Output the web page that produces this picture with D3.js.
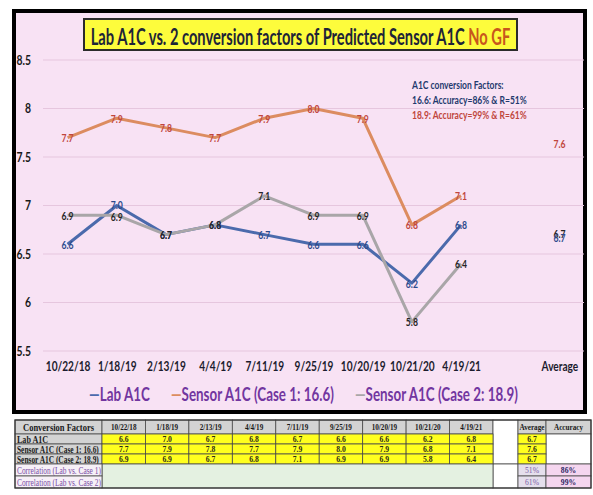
<!DOCTYPE html>
<html><head><meta charset="utf-8">
<script src="https://cdn.jsdelivr.net/npm/d3@7/dist/d3.min.js"></script>
<style>body{margin:0;background:#fff}svg{display:block}</style>
</head><body>
<svg id="c" width="593" height="495"></svg>
<script>
// ---------- data ----------
const categories = ["10/22/18","1/18/19","2/13/19","4/4/19","7/11/19","9/25/19","10/20/19","10/21/20","4/19/21","","Average"];
const labA1C      = [6.6, 7.0, 6.7, 6.8, 6.7, 6.6, 6.6, 6.2, 6.8, null, 6.67];
const sensorCase1 = [7.7, 7.9, 7.8, 7.7, 7.9, 8.0, 7.9, 6.8, 7.1, null, 7.64];
const sensorCase2 = [6.9, 6.9, 6.7, 6.8, 7.1, 6.9, 6.9, 5.8, 6.4, null, 6.71];
const seriesNames = ["Lab A1C", "Sensor A1C (Case 1: 16.6)", "Sensor A1C (Case 2: 18.9)"];
const yTicks = [5.5, 6, 6.5, 7, 7.5, 8, 8.5];
const titleMain = "Lab A1C vs. 2 conversion factors of Predicted Sensor A1C ";
const titleTag = "No GF";
const annotationLines = ["A1C conversion Factors:", "16.6:  Accuracy=86% & R=51%", "18.9:  Accuracy=99% & R=61%"];
const tableHeader = "Conversion Factors";
const correlationLabels = ["Correlation (Lab vs. Case 1)", "Correlation (Lab vs. Case 2)"];
const correlationValues = ["51%", "61%"];
const accuracyHeader = "Accuracy";
const accuracyValues = ["86%", "99%"];

// ---------- setup ----------
const svg = d3.select("#c");
const F = "Lato, 'Open Sans', sans-serif";
const SERIF = "'Liberation Serif', 'DejaVu Serif', serif";
const fmt = d3.format(".1f");

function scaledText(g, str, x, y, opts) {
  const t = g.append("text")
    .attr("font-family", opts.family || F)
    .attr("font-size", opts.size)
    .attr("font-weight", opts.weight || "bold")
    .attr("fill", opts.fill || "#1a1a1a")
    .attr("text-anchor", opts.anchor || "middle")
    .attr("dominant-baseline", "central")
    .text(str);
  let s = opts.sx || 0.8;
  if (opts.width) s = opts.width / t.node().getBBox().width;
  t.attr("transform", `translate(${x},${y}) scale(${s},1)`);
  return t;
}

// frame
svg.append("rect").attr("x", 14).attr("y", 11).attr("width", 571).attr("height", 401)
  .attr("fill", "#f8e2f4").attr("stroke", "#000").attr("stroke-width", 4);

const x = d3.scalePoint().domain(categories).range([43, 584]).padding(0.5);
const y = d3.scaleLinear().domain([5.5, 8.5]).range([351, 60]);

// grid
svg.append("g").selectAll("line").data(yTicks).join("line")
  .attr("x1", 43).attr("x2", 584).attr("y1", d => y(d)).attr("y2", d => y(d))
  .attr("stroke", "#e6c6de").attr("stroke-width", 1);

// y axis
const ya = svg.append("g").attr("transform", "translate(43,0)")
  .call(d3.axisLeft(y).tickValues(yTicks).tickSize(0).tickPadding(12)
    .tickFormat(d => d % 1 ? d.toFixed(1) : String(d)));
ya.select(".domain").remove();
ya.selectAll("text").attr("font-family", F).attr("font-weight", "bold").attr("font-size", 13)
  .attr("fill", "#1a1a1a").attr("x", -12 / 0.8).attr("transform", "scale(0.8,1)");

// x axis
const xa = svg.append("g").attr("transform", "translate(0,351)")
  .call(d3.axisBottom(x).tickSize(0).tickPadding(11));
xa.select(".domain").remove();
xa.selectAll("text").attr("font-family", F).attr("font-weight", "bold").attr("font-size", 13)
  .attr("fill", "#1c1c2e").attr("transform", "scale(0.78,1)");

// series
const series = [
  { name: seriesNames[0], values: labA1C, stroke: "#4b6aac", label: "#2c4a8c" },
  { name: seriesNames[1], values: sensorCase1, stroke: "#dc8c60", label: "#c0463c" },
  { name: seriesNames[2], values: sensorCase2, stroke: "#a9a6a8", label: "#262626" }
];
const line = d3.line().defined(d => d.v != null).x(d => x(d.c)).y(d => y(d.v));
series.forEach(s => {
  const pts = categories.map((c, i) => ({ c, v: s.values[i] }));
  svg.append("path").datum(pts).attr("d", line).attr("fill", "none")
    .attr("stroke", s.stroke).attr("stroke-width", 3).attr("stroke-linejoin", "round");
});
// data labels (centered on points; labels with different text that collide are nudged apart)
const lblG = svg.append("g");
categories.forEach((c, i) => {
  const labs = series.filter(s => s.values[i] != null)
    .map(s => ({ s, txt: fmt(s.values[i]), ly: y(s.values[i]) }))
    .sort((a, b) => a.ly - b.ly);
  for (let k = 1; k < labs.length; k++) {
    const a = labs[k - 1], b = labs[k];
    if (a.txt !== b.txt && b.ly - a.ly < 12) {
      const d = (12 - (b.ly - a.ly)) / 2;
      a.ly -= d; b.ly += d;
    }
  }
  labs.forEach(l => scaledText(lblG, l.txt, x(c), l.ly, { size: 11.5, fill: l.s.label, sx: 0.75 }));
});

// title
svg.append("rect").attr("x", 84).attr("y", 19).attr("width", 433).attr("height", 31)
  .attr("fill", "#fdfc3c").attr("stroke", "#2b2b2b").attr("stroke-width", 2);
const tt = svg.append("text").attr("font-family", F).attr("font-size", 23).attr("font-weight", "bold")
  .attr("text-anchor", "middle").attr("dominant-baseline", "central").attr("fill", "#1d2438");
tt.append("tspan").text(titleMain);
tt.append("tspan").attr("fill", "#c8561c").text(titleTag);
tt.attr("transform", `translate(300.5,35) scale(${420 / tt.node().getBBox().width},1)`);

// annotation
const annG = svg.append("g");
const annColors = ["#1f3a6e", "#1f3a6e", "#c0463c"];
const a2 = annG.append("text").attr("font-family", F).attr("font-size", 12).attr("font-weight", "bold")
  .text(annotationLines[1]);
const annScale = 115 / a2.node().getBBox().width;
a2.remove();
annotationLines.forEach((t, i) => {
  scaledText(annG, t, 412, 84 + i * 15, { size: 12, fill: annColors[i], anchor: "start", sx: annScale });
});

// legend
const legG = svg.append("g");
const items = series.map(s => {
  const t = legG.append("text").attr("font-family", F).attr("font-size", 18).attr("font-weight", "bold")
    .attr("dominant-baseline", "central");
  t.append("tspan").attr("fill", s.stroke).text("\u2014");
  t.append("tspan").attr("fill", "#7236a0").text(s.name);
  return t;
});
const legScale = 163 / items[1].node().getBBox().width;
const widths = items.map(t => t.node().getBBox().width * legScale);
const gap = 21;
const total = d3.sum(widths) + gap * (items.length - 1);
let lx = 303.5 - total / 2;
items.forEach((t, i) => {
  t.attr("transform", `translate(${lx},393) scale(${legScale},1)`);
  lx += widths[i] + gap;
});

// ---------- table ----------
const tg = svg.append("g");
const dateCats = categories.slice(0, 9);
const colX = [15, 102];
dateCats.forEach((d, i) => colX.push(102 + (i + 1) * (391 / 9)));
const blankX = [493, 518], avgX = [518, 546], accX = [546, 591];
const rowY = [420, 434, 444, 454, 464, 476, 488];
const bord = "#4a4a4a";
function cell(x0, x1, y0, y1, fill) {
  tg.append("rect").attr("x", x0).attr("y", y0).attr("width", x1 - x0).attr("height", y1 - y0)
    .attr("fill", fill).attr("stroke", bord).attr("stroke-width", 0.8);
}
function ctext(str, x0, x1, y0, y1, opts) {
  const cx = opts.anchor === "start" ? x0 + 2 : (x0 + x1) / 2;
  scaledText(tg, str, cx, (y0 + y1) / 2 + 0.5, Object.assign({ family: SERIF }, opts));
}
const GRAY = "#d3d3d3", YEL = "#ffff1e";
// header row
cell(colX[0], colX[1], rowY[0], rowY[1], GRAY);
ctext(tableHeader, colX[0], colX[1], rowY[0], rowY[1], { size: 10, sx: 0.85 });
dateCats.forEach((d, i) => {
  cell(colX[i + 1], colX[i + 2], rowY[0], rowY[1], GRAY);
  ctext(d, colX[i + 1], colX[i + 2], rowY[0], rowY[1], { size: 9, sx: 0.8 });
});
cell(blankX[0], blankX[1], rowY[0], rowY[4], "#fff");
cell(blankX[0], blankX[1], rowY[4], rowY[6], "#fff");
cell(avgX[0], avgX[1], rowY[0], rowY[1], GRAY);
ctext("Average", avgX[0], avgX[1], rowY[0], rowY[1], { size: 9, sx: 0.8 });
cell(accX[0], accX[1], rowY[0], rowY[1], GRAY);
ctext(accuracyHeader, accX[0], accX[1], rowY[0], rowY[1], { size: 9, sx: 0.8 });
cell(accX[0], accX[1], rowY[1], rowY[4], "#fff");
// data rows
series.forEach((s, r) => {
  const y0 = rowY[r + 1], y1 = rowY[r + 2];
  cell(colX[0], colX[1], y0, y1, GRAY);
  ctext(s.name, colX[0], colX[1], y0, y1, { size: 9.5, anchor: "start", width: r === 0 ? null : 82, sx: 0.85 });
  dateCats.forEach((d, i) => {
    cell(colX[i + 1], colX[i + 2], y0, y1, YEL);
    ctext(fmt(s.values[i]), colX[i + 1], colX[i + 2], y0, y1, { size: 9, sx: 0.85, fill: "#2a2a1a" });
  });
  cell(avgX[0], avgX[1], y0, y1, YEL);
  ctext(fmt(s.values[10]), avgX[0], avgX[1], y0, y1, { size: 9, sx: 0.85, fill: "#2a2a1a" });
});
// correlation rows
cell(colX[1], colX[10], rowY[4], rowY[6], "#e4f1e1");
correlationLabels.forEach((lab, r) => {
  const y0 = rowY[r + 4], y1 = rowY[r + 5];
  cell(colX[0], colX[1], y0, y1, "#f6f0f7");
  ctext(lab, colX[0], colX[1], y0, y1, { size: 9.5, anchor: "start", width: 84, weight: "normal", fill: "#7a4fa6" });
  cell(avgX[0], avgX[1], y0, y1, "#e5dfec");
  ctext(correlationValues[r], avgX[0], avgX[1], y0, y1, { size: 9, sx: 0.85, weight: "normal", fill: "#7a5aa6" });
  cell(accX[0], accX[1], y0, y1, "#f5d6ef");
  ctext(accuracyValues[r], accX[0], accX[1], y0, y1, { size: 9, sx: 0.85, fill: "#2b2563" });
});
tg.append("rect").attr("x", 15).attr("y", rowY[0]).attr("width", 576).attr("height", rowY[6] - rowY[0])
  .attr("fill", "none").attr("stroke", "#333").attr("stroke-width", 1.2);
</script>
</body></html>
